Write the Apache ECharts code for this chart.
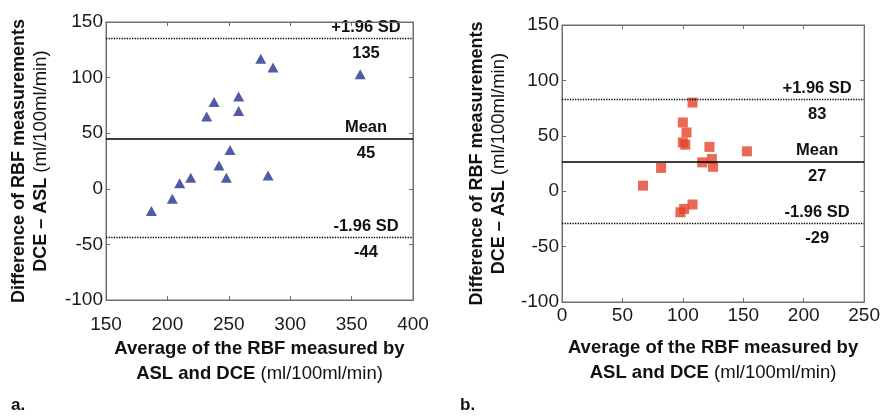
<!DOCTYPE html>
<html><head><meta charset="utf-8">
<script src="https://cdn.jsdelivr.net/npm/echarts@6/dist/echarts.min.js"></script>
<style>html,body{margin:0;padding:0;background:#fff}#c{width:883px;height:419px}</style>
</head><body><div id="c"></div>
<script>
// Panel a (triangles)
const leftX = [187, 204, 210, 219, 232, 238, 242, 248, 251, 258, 258, 276, 282, 286, 357];
const leftY = [-20, -9, 5, 10, 65, 78, 21, 10, 35, 83, 70, 117, 12, 109, 103];
const leftLines = [135, 45, -44];
// Panel b (squares)
const rightX = [67, 82, 100, 103, 100, 102, 108, 98, 101, 108, 116, 122, 124, 125, 153];
const rightY = [5, 21, 62, 53, 44, 42, 80, -19, -16, -12, 26, 40, 29, 22, 36];
const rightLines = [83, 27, -29];
const lineNames = ['+1.96 SD', 'Mean', '-1.96 SD'];
const leftXTicks = [150, 400, 50];
const rightXTicks = [0, 250, 50];
const yTicks = [-100, 150, 50];
const panelLabels = ['a.', 'b.'];

const FF = "'Liberation Sans', Arial, Helvetica, sans-serif";
const AX = '#6e6e6e';
const chart = echarts.init(document.getElementById('c'));

function pairs(xs, ys){ return xs.map((x,i)=>[x, ys[i]]); }
function markLines(vals){
  return vals.map((v,i)=>({yAxis:v, lineStyle:{type: i===1?'solid':[1.3,1.3], width: i===1?1.6:1.3, color:'#000'}}));
}
const yName = '{b|Difference of RBF measurements}\n{b|DCE \u2013 ASL }{n|(ml/100ml/min)}';
const xName = '{b|Average of the RBF measured by}\n{b|ASL and DCE }{n|(ml/100ml/min)}';
const nameRich = {
  b:{fontFamily:FF, fontWeight:'bold', fontSize:18, lineHeight:22, color:'#111'},
  n:{fontFamily:FF, fontWeight:'normal', fontSize:18.5, lineHeight:22, color:'#111'}
};
const xNameRich = {
  b:{fontFamily:FF, fontWeight:'bold', fontSize:18.5, lineHeight:25, color:'#111'},
  n:{fontFamily:FF, fontWeight:'normal', fontSize:18.5, lineHeight:25, color:'#111'}
};
function xAx(g, t, pos, labels, margin, gap){
  const a = {gridIndex:g, type:'value', min:t[0], max:t[1], interval:t[2], position:pos,
    axisLine:{show:true, onZero:false, lineStyle:{color:AX, width:1}},
    axisTick:{show:true, inside:true, length:4, lineStyle:{color:AX}},
    splitLine:{show:false},
    axisLabel:{show:labels, fontFamily:FF, fontSize:19, color:'#1a1a1a', margin:margin}};
  if (labels){ a.name = xName; a.nameLocation='middle'; a.nameGap=gap; a.nameTextStyle={rich:xNameRich}; }
  return a;
}
function yAx(g, pos, labels, gap){
  const a = {gridIndex:g, type:'value', min:yTicks[0], max:yTicks[1], interval:yTicks[2], position:pos,
    axisLine:{show:true, onZero:false, lineStyle:{color:AX, width:1}},
    axisTick:{show:true, inside:true, length:4, lineStyle:{color:AX}},
    splitLine:{show:false},
    axisLabel:{show:labels, fontFamily:FF, fontSize:19, color:'#1a1a1a', margin:3}};
  if (labels){ a.name = yName; a.nameLocation='middle'; a.nameRotate=90; a.nameGap=gap; a.nameTextStyle={rich:nameRich}; }
  return a;
}

chart.setOption({
  animation:false,
  grid:[
    {left:106, top:22, width:307, height:278, show:true, borderColor:AX, borderWidth:1, containLabel:false},
    {left:562, top:25, width:305, height:277, show:true, borderColor:AX, borderWidth:1, containLabel:false}
  ],
  xAxis:[
    xAx(0, leftXTicks, 'bottom', true, 15, 36),
    xAx(0, leftXTicks, 'top', false),
    xAx(1, rightXTicks, 'bottom', true, 4, 33),
    xAx(1, rightXTicks, 'top', false)
  ],
  yAxis:[
    yAx(0, 'left', true, 54),
    yAx(0, 'right', false),
    yAx(1, 'left', true, 52),
    yAx(1, 'right', false)
  ],
  series:[
    {type:'scatter', xAxisIndex:0, yAxisIndex:0, data:pairs(leftX, leftY), symbol:'triangle', symbolSize:[11,10],
     itemStyle:{color:'#25318f'},
     markLine:{silent:true, symbol:['none','none'], label:{show:false}, data:markLines(leftLines)}},
    {type:'scatter', xAxisIndex:2, yAxisIndex:2, data:pairs(rightX, rightY), symbol:'rect', symbolSize:10,
     itemStyle:{color:'#e4432b'},
     markLine:{silent:true, symbol:['none','none'], label:{show:false}, data:markLines(rightLines)}}
  ]
});

// annotation text for the reference lines
const gfx = [];
function annotate(xi, yi, xmax, vals){
  vals.forEach((v,i)=>{
    const p = chart.convertToPixel({xAxisIndex:xi, yAxisIndex:yi}, [xmax, v]);
    const cx = p[0] - 47;
    gfx.push({type:'text', x:cx, y:p[1]-11, style:{text:lineNames[i], font:'bold 16.5px '+FF, fill:'#111', align:'center', verticalAlign:'middle'}});
    gfx.push({type:'text', x:cx, y:p[1]+15, style:{text:String(v), font:'bold 16.5px '+FF, fill:'#111', align:'center', verticalAlign:'middle'}});
  });
}
annotate(0, 0, leftXTicks[1], leftLines);
annotate(2, 2, rightXTicks[1], rightLines);
gfx.push({type:'text', left:11, top:397, style:{text:panelLabels[0], font:'bold 17px '+FF, fill:'#111'}});
gfx.push({type:'text', left:460, top:397, style:{text:panelLabels[1], font:'bold 17px '+FF, fill:'#111'}});
chart.setOption({graphic:gfx});
</script>
</body></html>
